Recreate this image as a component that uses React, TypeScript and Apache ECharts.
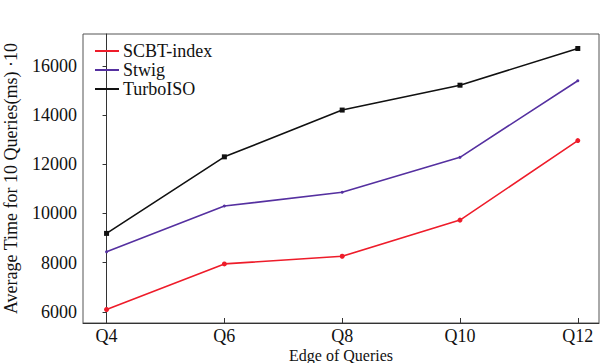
import React, { useEffect, useRef } from "react";
import * as echarts from "echarts";

const categories = ["Q4", "Q6", "Q8", "Q10", "Q12"];
const scbtIndex = [6100, 7950, 8260, 9730, 12960];
const stwig = [8440, 10300, 10860, 12280, 15390];
const turboIso = [9190, 12300, 14200, 15210, 16700];
const yTicks = [6000, 8000, 10000, 12000, 14000, 16000];
const xTicks = [0, 1, 2, 3, 4];

const FONT = "'Liberation Serif', 'DejaVu Serif', serif";

export default function App() {
  const ref = useRef<HTMLDivElement>(null);
  useEffect(() => {
    if (!ref.current) return;
    const chart = echarts.init(ref.current, undefined, { renderer: "svg" });
    const toPairs = (arr: number[]) => arr.map((v, i) => [i, v]);
    const mk = (name: string, data: number[], color: string, symbol: string, size: number) => ({
      name,
      type: "line",
      data: toPairs(data),
      symbol,
      symbolSize: size,
      lineStyle: { color, width: 1.6 },
      itemStyle: { color },
    });
    chart.setOption({
      animation: false,
      backgroundColor: "#ffffff",
      grid: {
        left: 83,
        top: 34,
        right: 2,
        bottom: 40,
        outerBoundsMode: "none",
        containLabel: false,
        show: true,
        borderColor: "#555",
        borderWidth: 1,
        backgroundColor: "transparent",
      },
      legend: {
        orient: "vertical",
        left: 95,
        top: 42,
        padding: 0,
        itemGap: 1,
        itemWidth: 24,
        itemHeight: 2,
        data: [
          { name: "SCBT-index", icon: "rect" },
          { name: "Stwig", icon: "rect" },
          { name: "TurboISO", icon: "rect" },
        ],
        textStyle: { fontFamily: FONT, fontSize: 18, color: "#111", lineHeight: 18, padding: [0, 0, 0, -1] },
      },
      xAxis: {
        type: "value",
        min: -0.2,
        max: 4.18,
        name: "Edge of Queries",
        nameLocation: "middle",
        nameGap: 25,
        nameMoveOverlap: false,
        nameTextStyle: { fontFamily: FONT, fontSize: 16, color: "#111", lineHeight: 15, verticalAlign: "top" },
        axisLine: { show: true, lineStyle: { color: "#333", width: 1 } },
        axisTick: { show: true, inside: true, length: 5, customValues: xTicks, lineStyle: { color: "#333" } },
        axisLabel: {
          customValues: xTicks,
          formatter: (v: number) => categories[Math.round(v)] ?? "",
          fontFamily: FONT,
          fontSize: 18,
          lineHeight: 16,
          color: "#111",
          margin: 5,
        },
        splitLine: { show: false },
      },
      yAxis: {
        type: "value",
        min: 5550,
        max: 17290,
        name: "Average Time for 10 Queries(ms) ·10",
        nameLocation: "middle",
        nameGap: 63,
        nameMoveOverlap: false,
        nameTextStyle: { fontFamily: FONT, fontSize: 18, color: "#111" },
        axisLine: { show: true, lineStyle: { color: "#333", width: 1 } },
        axisTick: { show: true, inside: false, length: 4, customValues: yTicks, lineStyle: { color: "#333" } },
        axisLabel: {
          customValues: yTicks,
          formatter: (v: number) => String(v),
          fontFamily: FONT,
          fontSize: 18,
          color: "#111",
          margin: 6,
        },
        splitLine: { show: false },
      },
      series: [
        mk("SCBT-index", scbtIndex, "#ee1c2a", "circle", 5),
        mk("Stwig", stwig, "#5530a0", "circle", 3),
        mk("TurboISO", turboIso, "#111111", "rect", 5),
      ],
    });
    return () => chart.dispose();
  }, []);
  return <div ref={ref} style={{ width: 601, height: 363, position: "absolute", left: 0, top: 0 }} />;
}
